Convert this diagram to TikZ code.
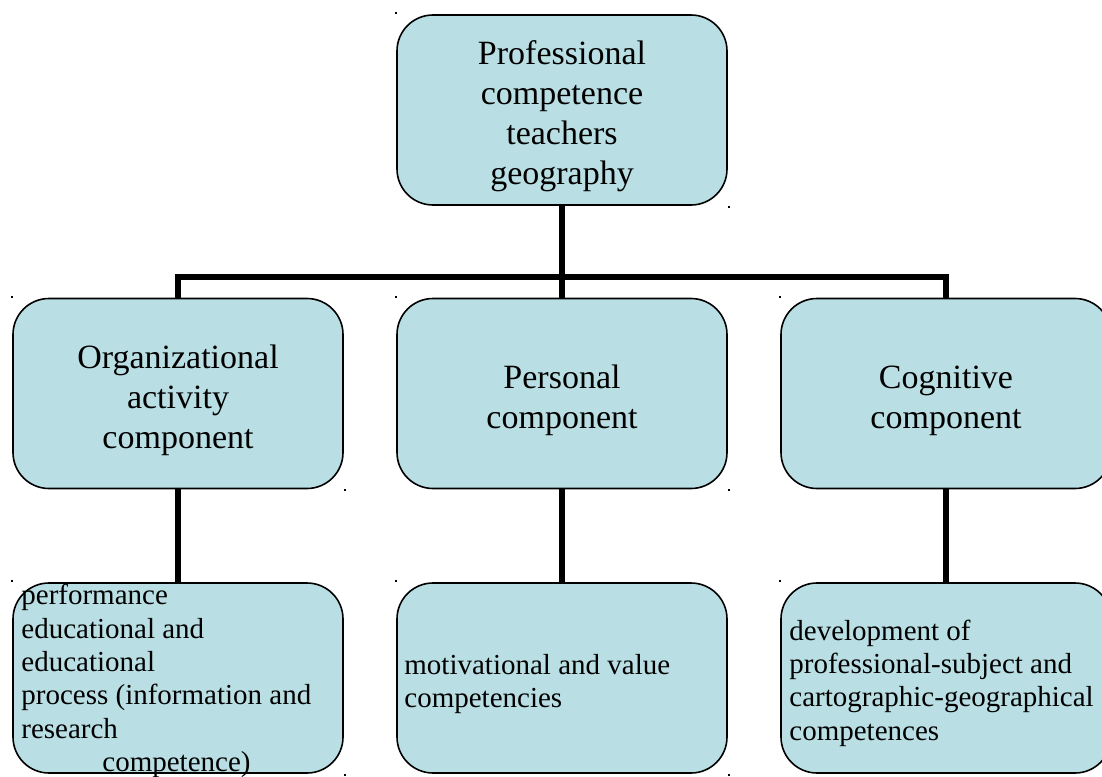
\documentclass[tikz,border=0pt]{standalone}
\usepackage{xcolor}
\usepackage{fontspec}
\setmainfont{Liberation Serif}
\usepackage{tikz}

\definecolor{boxfill}{RGB}{185,223,228}

\begin{document}
\begin{tikzpicture}[x=1pt,y=-1pt,
  box/.style={draw=black,line width=1.6pt,fill=boxfill,rounded corners=36pt,
    minimum width=330pt,minimum height=190pt,inner sep=0pt},
  ttext/.style={inner sep=0pt,align=center,
    font=\fontsize{34}{40}\selectfont},
  btext/.style={inner sep=0pt,align=left,anchor=west,
    font=\fontsize{29}{33.4}\selectfont},
  conn/.style={line width=5.5pt},
  handle/.style={fill=black,minimum size=2pt,inner sep=0pt}]
\clip (0,0) rectangle (1102,776);
%\draw[help lines] (0,0) grid (1102,776);

% top
\node at (562,110) [box] (top) {};
\node at ([yshift=-6pt]top.center) [ttext] (toptxt) {Professional\\competence\\teachers\\geography};

% components
\node at (178,393.5) [box] (org) {};
\node at (562,393.5) [box] (pers) {};
\node at (946,393.5) [box] (cog) {};
\node at ([yshift=-7pt]org.center) [ttext] (orgtxt) {Organizational\\activity\\component};
\node at ([yshift=-7pt]pers.center) [ttext] (perstxt) {Personal\\component};
\node at ([yshift=-7pt]cog.center) [ttext] (cogtxt) {Cognitive\\component};

% competences
\node at (178,678) [box] (perf) {};
\node at (562,678) [box] (motiv) {};
\node at (946,678) [box] (devel) {};
\node at ([xshift=9pt,yshift=-3pt]perf.west) [btext] (perftxt) {performance\\educational and\\educational\\process (information and\\research\\\hspace*{81pt}competence)};
\node at ([xshift=8pt,yshift=-6pt]motiv.west) [btext] (motivtxt) {motivational and value\\competencies};
\node at ([xshift=9pt,yshift=-5pt]devel.west) [btext] (develtxt) {development of\\professional-subject and\\cartographic-geographical\\competences};

% connectors
\coordinate (bar) at (562,277);
\draw [conn] (top.south) -- (bar);
\draw [conn] (bar) -- (pers.north);
\draw [conn] (org.north) |- (bar) -| (cog.north);
\draw [conn] (org.south) -- (perf.north);
\draw [conn] (pers.south) -- (motiv.north);
\draw [conn] (cog.south) -- (devel.north);

% corner handles
\foreach \n in {top,org,pers,cog,perf,motiv,devel} {
  \node at ([shift={(0,-1)}]\n.north west) [handle] {};
  \node at ([shift={(1,1)}]\n.south east) [handle] {};
}
\end{tikzpicture}
\end{document}
